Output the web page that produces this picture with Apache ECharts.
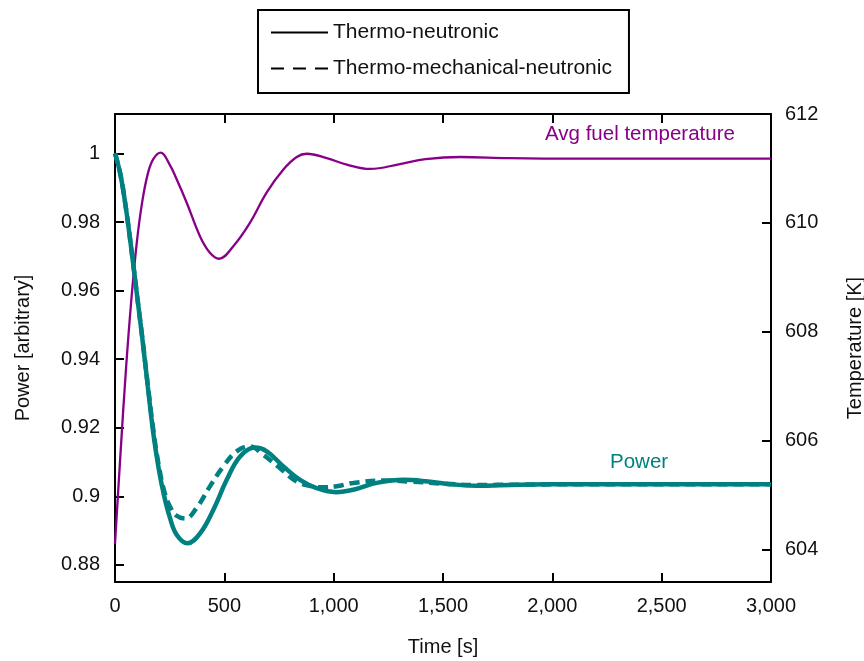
<!DOCTYPE html>
<html>
<head>
<meta charset="utf-8">
<script src="https://cdn.jsdelivr.net/npm/echarts@6/dist/echarts.min.js"></script>
<style>
html,body{margin:0;padding:0;background:#fff;}
#chart{width:864px;height:661px;}
</style>
</head>
<body>
<div id="chart"></div>
<script>
// ---- data ----
// Thermo-neutronic power [arbitrary]
const timePowerTN = [0,25,50,75,100,125,150,175,200,225,250,282,331,389,450,511,572,640,694,770,846,922,1010,1090,1197,1320,1420,1520,1650,1850,2100,3000];
const powerThermoNeutronic = [1.0000,0.9938,0.9840,0.9720,0.9590,0.9460,0.9320,0.9185,0.9080,0.9000,0.8940,0.8888,0.8863,0.8892,0.8961,0.9048,0.9116,0.9142,0.9131,0.9087,0.9048,0.9024,0.9012,0.9019,0.9039,0.9048,0.9044,0.9036,0.9031,0.9034,0.9035,0.9035];

// Thermo-mechanical-neutronic power [arbitrary]
const timePowerTMN = [0,25,50,75,100,125,150,175,200,225,251,280,322,373,434,495,556,615,678,755,831,900,955,1014,1090,1230,1349,1500,1650,1850,2100,3000];
const powerThermoMechNeutronic = [1.0000,0.9938,0.9840,0.9720,0.9590,0.9462,0.9325,0.9195,0.9090,0.9015,0.8970,0.8944,0.8935,0.8966,0.9029,0.9087,0.9131,0.9146,0.9121,0.9082,0.9043,0.9029,0.9026,0.9029,0.9039,0.9046,0.9043,0.9037,0.9033,0.9034,0.9035,0.9035];

// Average fuel temperature [K]
const timeTemp = [0,25,50,75,100,125,150,175,209,250,282,328,389,434,476,541,617,694,770,831,877,968,1060,1166,1303,1420,1580,1800,2100,3000];
const avgFuelTemperature = [604.10,605.75,607.30,608.60,609.65,610.40,610.90,611.17,611.29,611.07,610.80,610.37,609.75,609.45,609.34,609.57,610.00,610.56,610.98,611.21,611.27,611.19,611.07,610.99,611.08,611.17,611.21,611.19,611.18,611.18];

const powerTicks = [0.88,0.9,0.92,0.94,0.96,0.98,1];
const tempTicks = [604,606,608,610,612];
const legendNames = ['Thermo-neutronic','Thermo-mechanical-neutronic'];

// ---- chart ----
const FONT = '"Liberation Sans", Arial, Helvetica, sans-serif';
const TEAL = '#008080';
const PURPLE = '#870087';
const pairs = (xs, ys) => xs.map((t, i) => [t, ys[i]]);

const chart = echarts.init(document.getElementById('chart'), null, {renderer: 'canvas'});

const axisLineStyle = {show: true, onZero: false, lineStyle: {color: '#000', width: 2}};
const tickStyle = {show: true, inside: true, length: 9, lineStyle: {color: '#000', width: 2}};

chart.setOption({
  animation: false,
  backgroundColor: '#fff',
  textStyle: {fontFamily: FONT},
  grid: {left: 115, right: 93, top: 114, bottom: 79, show: false, containLabel: false, outerBoundsMode: 'none'},
  legend: {
    data: legendNames,
    orient: 'vertical',
    left: 258,
    top: 10,
    itemWidth: 57,
    itemHeight: 20,
    itemGap: 15,
    padding: [12, 17, 14, 12],
    borderColor: '#000',
    borderWidth: 2,
    selectedMode: false,
    textStyle: {fontSize: 21, color: '#111', fontFamily: FONT}
  },
  xAxis: [{
    type: 'value', position: 'bottom', min: 0, max: 3000, interval: 500,
    name: 'Time [s]', nameLocation: 'middle', nameGap: 55,
    nameTextStyle: {fontSize: 20, color: '#111', fontFamily: FONT},
    axisLine: axisLineStyle, axisTick: tickStyle,
    axisLabel: {fontSize: 20, color: '#111', margin: 14, fontFamily: FONT},
    splitLine: {show: false}
  }, {
    type: 'value', position: 'top', min: 0, max: 3000, interval: 500,
    axisLine: axisLineStyle, axisTick: tickStyle,
    axisLabel: {show: false}, splitLine: {show: false}
  }],
  yAxis: [{
    type: 'value', position: 'left', min: 0.875, max: 1.0115,
    name: 'Power [arbitrary]', nameLocation: 'middle', nameGap: 82, nameRotate: 90,
    nameTextStyle: {fontSize: 20, color: '#111', fontFamily: FONT},
    axisLine: axisLineStyle,
    axisTick: Object.assign({customValues: powerTicks}, tickStyle),
    axisLabel: {customValues: powerTicks, fontSize: 20, color: '#111', margin: 15, fontFamily: FONT,
      formatter: (v) => String(+(+v).toFixed(2))},
    splitLine: {show: false}
  }, {
    type: 'value', position: 'right', min: 603.4, max: 612,
    name: 'Temperature [K]', nameLocation: 'middle', nameGap: 74, nameRotate: 90,
    nameTextStyle: {fontSize: 20, color: '#111', fontFamily: FONT},
    axisLine: axisLineStyle,
    axisTick: Object.assign({customValues: tempTicks}, tickStyle),
    axisLabel: {customValues: tempTicks, fontSize: 20, color: '#111', margin: 14, fontFamily: FONT},
    splitLine: {show: false}
  }],
  series: [{
    name: 'Avg fuel temperature', type: 'line', xAxisIndex: 0, yAxisIndex: 1,
    data: pairs(timeTemp, avgFuelTemperature), showSymbol: false, symbol: 'none', smooth: 0.4,
    lineStyle: {color: PURPLE, width: 2.3}, z: 2
  }, {
    name: 'Power (thermo-neutronic)', type: 'line', xAxisIndex: 0, yAxisIndex: 0,
    data: pairs(timePowerTN, powerThermoNeutronic), showSymbol: false, symbol: 'none', smooth: 0.4,
    lineStyle: {color: TEAL, width: 4.5}, z: 3
  }, {
    name: 'Power (thermo-mechanical-neutronic)', type: 'line', xAxisIndex: 0, yAxisIndex: 0,
    data: pairs(timePowerTMN, powerThermoMechNeutronic), showSymbol: false, symbol: 'none', smooth: 0.4,
    lineStyle: {color: TEAL, width: 4.5, type: [10, 6]}, z: 4
  }, {
    name: legendNames[0], type: 'line', data: [], symbol: 'none',
    itemStyle: {color: '#000', opacity: 0},
    lineStyle: {color: '#000', width: 2.5}
  }, {
    name: legendNames[1], type: 'line', data: [], symbol: 'none',
    itemStyle: {color: '#000', opacity: 0},
    lineStyle: {color: '#000', width: 3, type: [13, 9]}
  }],
  graphic: [{
    type: 'text', left: 545, top: 124,
    style: {text: 'Avg fuel temperature', fill: PURPLE, font: '20.5px ' + FONT}
  }, {
    type: 'text', left: 610, top: 452,
    style: {text: 'Power', fill: TEAL, font: '20.5px ' + FONT}
  }]
});
</script>
</body>
</html>
